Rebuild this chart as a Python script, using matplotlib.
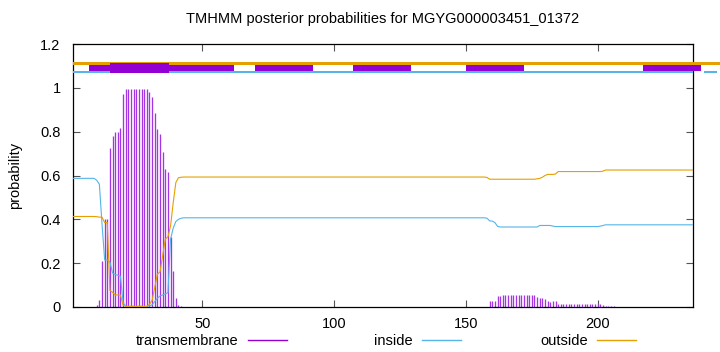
import matplotlib
matplotlib.use("Agg")
import matplotlib.pyplot as plt
from matplotlib.lines import Line2D
import numpy as np

plt.rcParams['font.family'] = ['Liberation Sans', 'DejaVu Sans']

# ---------------- data ----------------
title = "TMHMM posterior probabilities for MGYG000003451_01372"
seq_len = 236
residues = list(range(1, seq_len + 1))

transmembrane = ([0.0] * 9
                 + [0.01, 0.03, 0.21, 0.40, 0.40, 0.725, 0.778, 0.797, 0.80, 0.816, 0.973]
                 + [0.994] * 9
                 + [0.983, 0.96, 0.884, 0.81, 0.79, 0.709, 0.629, 0.615, 0.321, 0.164, 0.042, 0.008, 0.005]
                 + [0.001] * 57
                 + [0.002] * 59
                 + [0.027] * 3
                 + [0.049, 0.052]
                 + [0.053] * 13
                 + [0.044, 0.043, 0.040, 0.038, 0.027, 0.025, 0.027, 0.027]
                 + [0.015] * 17
                 + [0.009]
                 + [0.003] * 4
                 + [0.001] * 30)

inside = ([0.587] * 9
          + [0.578, 0.56, 0.38, 0.215, 0.215, 0.205, 0.155, 0.148, 0.145, 0.14, 0.02]
          + [0.003] * 9
          + [0.005, 0.01, 0.025, 0.04, 0.05, 0.055, 0.06, 0.065, 0.31, 0.36, 0.39, 0.40, 0.405]
          + [0.407] * 115
          + [0.405, 0.393, 0.392, 0.385, 0.368]
          + [0.365] * 15
          + [0.372] * 5
          + [0.369]
          + [0.367] * 17
          + [0.369, 0.372]
          + [0.375] * 34)

outside = ([0.413] * 9
           + [0.412, 0.41, 0.41, 0.385, 0.385, 0.075, 0.067, 0.055, 0.055, 0.054, 0.007]
           + [0.003] * 9
           + [0.012, 0.03, 0.09, 0.15, 0.16, 0.236, 0.31, 0.32, 0.37, 0.476, 0.568, 0.59, 0.592]
           + [0.593] * 115
           + [0.591]
           + [0.583] * 18
           + [0.585, 0.587, 0.592, 0.60, 0.605, 0.605, 0.605, 0.607]
           + [0.618] * 17
           + [0.62]
           + [0.625] * 34)

# topology bars at the top (residue ranges)
outside_segments = [(1, 250)]
inside_segments = [(1, 236), (240.2, 245.1)]
tm_segments = [(7, 62), (70, 92), (107, 129), (150, 172), (217, 239), (246.3, 250)]
tm_helix_segments = [(15, 37.5)]

xticks = [50, 100, 150, 200]
yticks = [0, 0.2, 0.4, 0.6, 0.8, 1.0, 1.2]
ytick_labels = ["0", "0.2", "0.4", "0.6", "0.8", "1", "1.2"]
legend_labels = ["transmembrane", "inside", "outside"]

# ---------------- style ----------------
C_TM = '#9400d3'
C_IMP = '#a335e3'
C_IN = '#56b4e9'
C_OUT = '#e69f00'
FS = 10.5

fig = plt.figure(figsize=(7.2, 3.52), dpi=100)
ax = fig.add_axes([73 / 720, 1 - 307 / 352, (692.7 - 73) / 720, (307 - 44) / 352])

# impulses
ax.vlines(residues, 0, transmembrane, color=C_IMP, lw=0.95, zorder=2)
ax.plot(residues, inside, color=C_IN, lw=0.8, zorder=3)
ax.plot(residues, outside, color=C_OUT, lw=0.8, zorder=3)

def bars(segs, y0, y1, color, z):
    coll = ax.broken_barh([(a, b - a) for a, b in segs], (y0, y1 - y0),
                          facecolors=color, edgecolors='none', zorder=z)
    coll.set_clip_on(False)

bars(outside_segments, 1.102, 1.119, C_OUT, 4)
bars(inside_segments, 1.066, 1.078, C_IN, 4)
bars(tm_segments, 1.078, 1.102, C_TM, 5)
bars(tm_helix_segments, 1.067, 1.114, C_TM, 6)

ax.set_xlim(1, seq_len)
ax.set_ylim(0, 1.2)
ax.set_xticks(xticks)
ax.set_xticklabels([str(t) for t in xticks], fontsize=FS)
ax.set_yticks(yticks)
ax.set_yticklabels(ytick_labels, fontsize=FS)
ax.tick_params(direction='in', length=5, width=0.8, top=True, right=True,
               color='#555555')
ax.tick_params(axis='x', pad=7)
ax.tick_params(axis='y', pad=9)
for s in ax.spines.values():
    s.set_linewidth(0.9)
    s.set_color('black')

ax.set_ylabel("probability", fontsize=FS, labelpad=13)
ax.set_title(title, fontsize=FS, pad=15)

# key: gnuplot-style entries, text right-aligned before the sample line
colors = [C_TM, C_IN, C_OUT]
key_right_px = [287, 461, 636]
for lab, col, xr in zip(legend_labels, colors, key_right_px):
    fig.legend([Line2D([], [], color=col, lw=1.0)], [lab], loc='center right',
               bbox_to_anchor=(xr / 720, 1 - 341 / 352), frameon=False,
               markerfirst=False, fontsize=FS, handlelength=2.7,
               handletextpad=0.6, borderpad=0, borderaxespad=0)

fig.savefig("out.png", dpi=100)
